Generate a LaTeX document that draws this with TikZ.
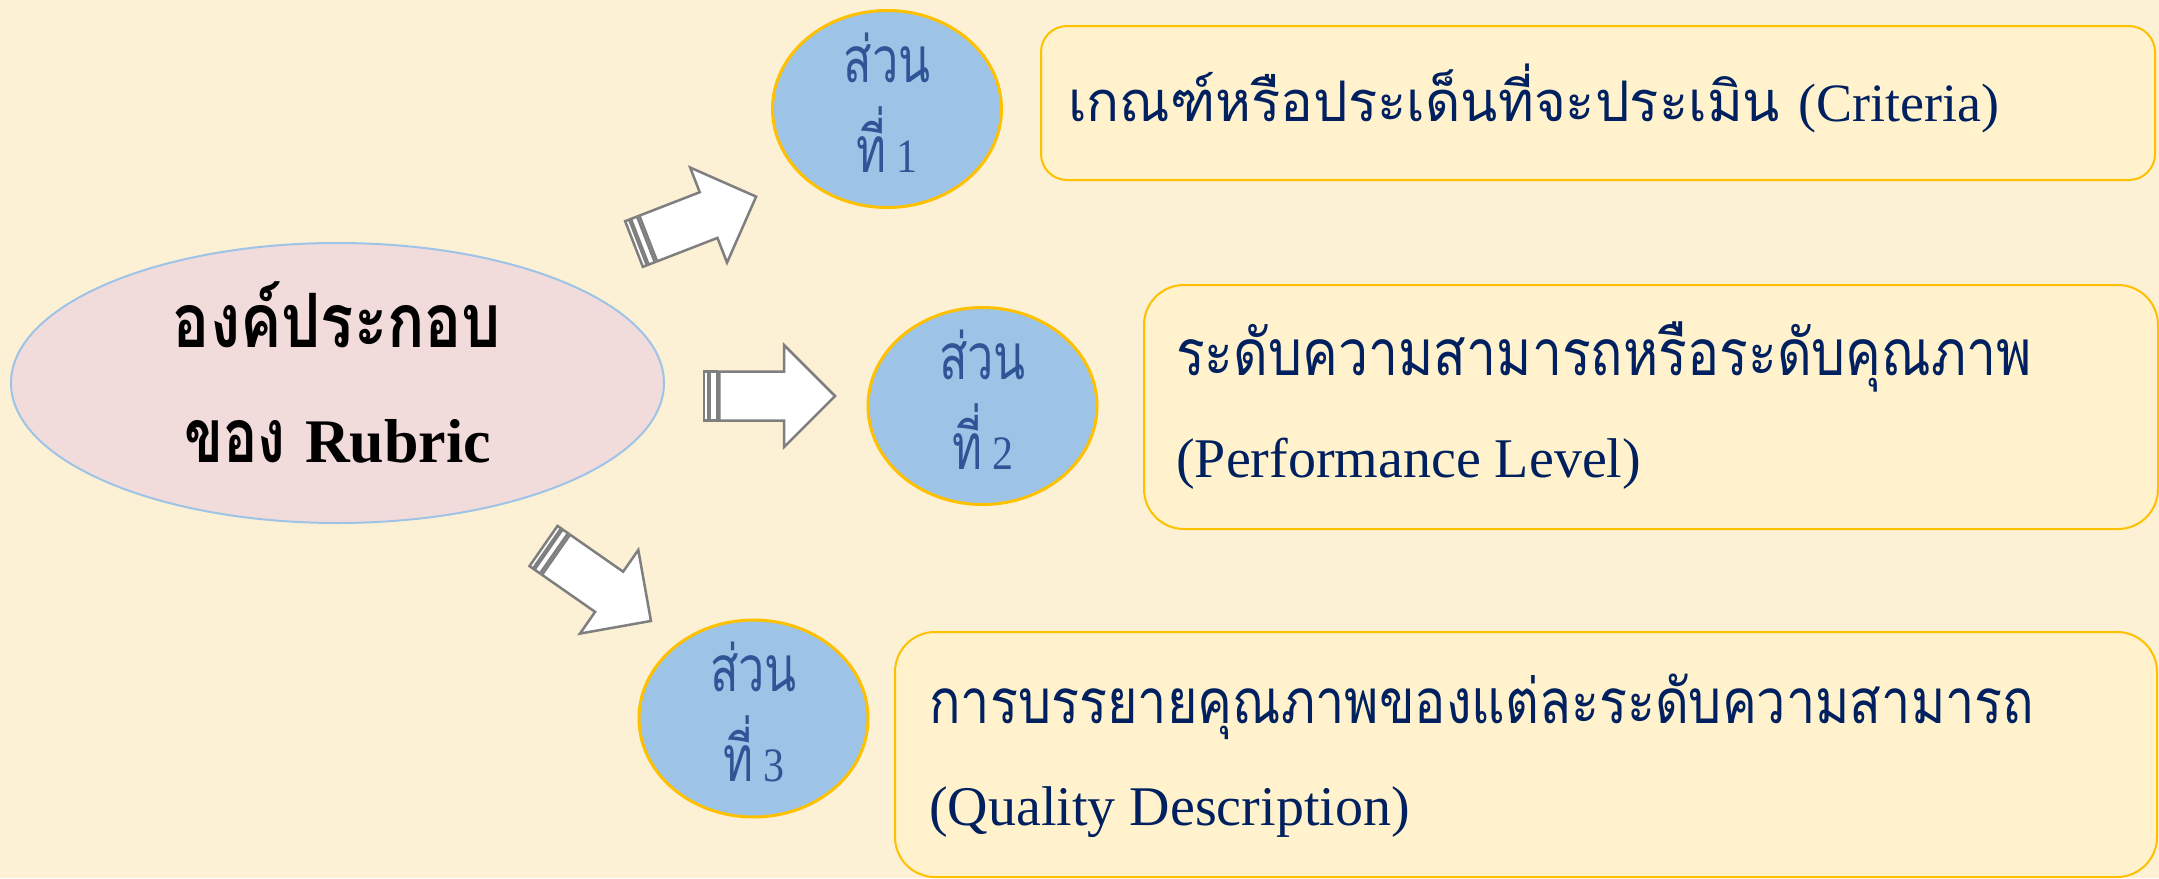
\documentclass[tikz,border=0pt]{standalone}
\usepackage{fontspec}
\usepackage{graphicx}
\setmainfont{Liberation Serif}
\newfontfamily\thai[Script=Thai]{Loma}
\usetikzlibrary{shapes.geometric}
\definecolor{bgc}{HTML}{FCF0D5}
\definecolor{boxfill}{HTML}{FFF2CC}
\definecolor{gold}{HTML}{FFC000}
\definecolor{partfill}{HTML}{9DC3E6}
\definecolor{parttext}{HTML}{2F5597}
\definecolor{navy}{HTML}{002060}
\definecolor{mainfill}{HTML}{F2DCDB}
\definecolor{mainline}{HTML}{9DC3E6}
\definecolor{arrowgray}{HTML}{7F7F7F}
\newcommand\fitw[2]{\resizebox{#1}{\height}{#2}}
\tikzset{
  mainell/.style={ellipse, draw=mainline, fill=mainfill, line width=2pt, inner sep=0pt},
  partell/.style={ellipse, draw=gold, fill=partfill, line width=3pt, inner sep=0pt, minimum width=229pt, minimum height=197pt},
  infobox/.style={draw=gold, fill=boxfill, line width=2pt, inner sep=0pt, anchor=north west},
  txt/.style={inner sep=0pt, anchor=base west},
  ctxt/.style={inner sep=0pt, anchor=base},
  arrowline/.style={draw=arrowgray, fill=white, line width=2.5pt, line join=miter},
  striped arrow/.pic={
    \path[arrowline] (15.3,-24.5) -- (80,-24.5) -- (80,-51) -- (131,0) -- (80,51) -- (80,24.5) -- (15.3,24.5) -- cycle;
    \path[arrowline] (0,-24.5) rectangle (4.3,24.5);
    \path[arrowline] (6.2,-24.5) rectangle (12.8,24.5);
  }
}
\begin{document}
\begin{tikzpicture}[x=1pt,y=-1pt]
\fill[bgc] (0,0) rectangle (2159,878);
\useasboundingbox (0,0) rectangle (2159,878);

% boxes
\node[infobox, rounded corners=26pt, minimum width=1114pt, minimum height=154pt] (b1) at (1040,25) {};
\node[infobox, rounded corners=40pt, minimum width=1014pt, minimum height=244pt] (b2) at (1143,284) {};
\node[infobox, rounded corners=40pt, minimum width=1262pt, minimum height=245pt] (b3) at (894,631) {};

% main ellipse
\node[mainell, minimum width=653pt, minimum height=280pt] (main) at (337.5,383) {};
\node[ctxt] (m1) at (337,347) {\fitw{328pt}{\fontsize{75}{80}\thai\bfseries องค์ประกอบ}};
\node[txt] (m2) at (184,462) {\fitw{101pt}{\fontsize{75}{80}\thai\bfseries ของ}\hspace{20pt}{\fontsize{62}{70}\selectfont\bfseries Rubric}};

% part ellipses
\node[partell] (p1) at (887,109) {};
\node[partell] (p2) at (982.5,406) {};
\node[partell] (p3) at (753.5,718.5) {};
\foreach \p/\n in {p1/1,p2/2,p3/3}{
  \node[ctxt, text=parttext] (\p a) at ([yshift=27pt]\p.center) {\fitw{87pt}{\fontsize{64}{70}\thai ส่วน}};
  \node[ctxt, text=parttext] (\p b) at ([yshift=-63pt]\p.center) {\fitw{30pt}{\fontsize{64}{70}\thai ที่}\hspace{10pt}\fitw{21pt}{\fontsize{48}{50}\selectfont \n}};
}

% arrows
\coordinate (a1) at (634,244);
\coordinate (a2) at (704,396);
\coordinate (a3) at (543.5,546);
\pic[rotate=21.2] at (a1) {striped arrow};
\pic at (a2) {striped arrow};
\pic[rotate=-34.9] at (a3) {striped arrow};

% box texts
\node[txt, text=navy] (t1) at (1068,121) {\fitw{712pt}{\fontsize{56}{60}\thai เกณฑ์หรือประเด็นที่จะประเมิน}\hspace{18pt}{\fontsize{54}{58}\selectfont (Criteria)}};
\node[txt, text=navy] (t2a) at (1176,375) {\fitw{856pt}{\fontsize{64}{70}\thai ระดับความสามารถหรือระดับคุณภาพ}};
\node[txt, text=navy] (t2b) at (1176,477) {\fontsize{56}{60}\selectfont (Performance Level)};
\node[txt, text=navy] (t3a) at (929,723) {\fitw{1105pt}{\fontsize{62}{70}\thai การบรรยายคุณภาพของแต่ละระดับความสามารถ}};
\node[txt, text=navy] (t3b) at (929,825) {\fontsize{56}{60}\selectfont (Quality Description)};
\end{tikzpicture}
\end{document}
